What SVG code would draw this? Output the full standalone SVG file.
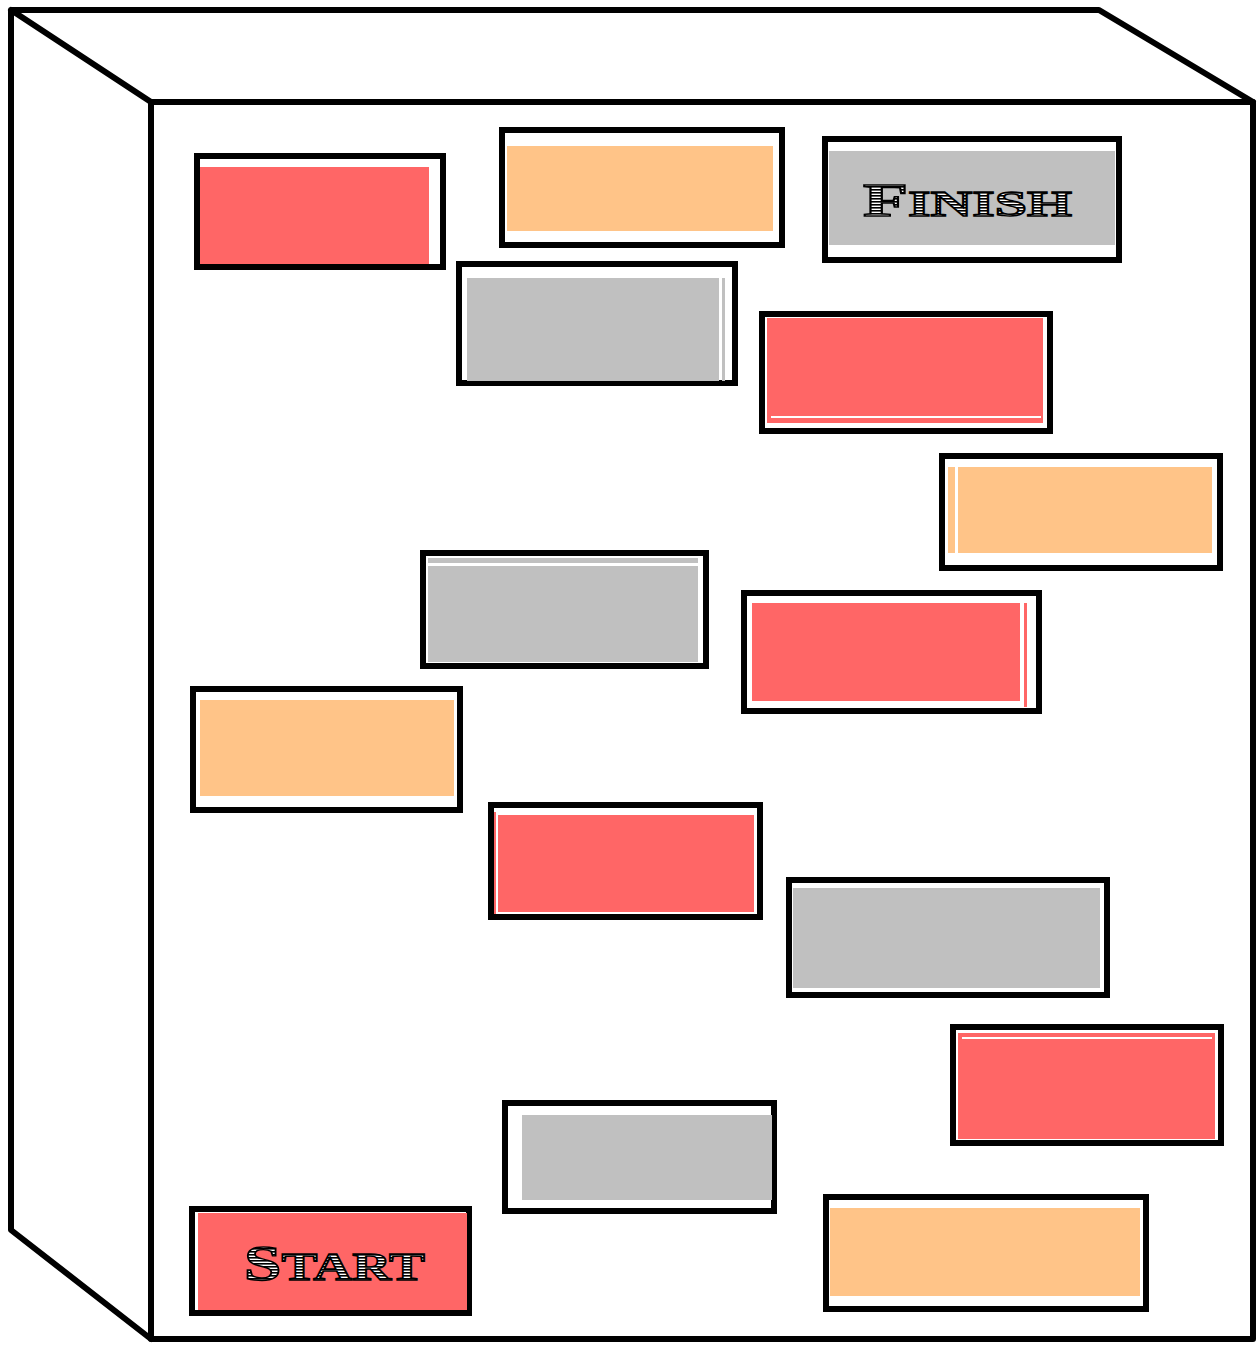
<svg xmlns="http://www.w3.org/2000/svg" width="1258" height="1347" viewBox="0 0 1258 1347">
<style>
.edge{fill:none;stroke:#000;stroke-width:6;stroke-linejoin:round;stroke-linecap:round}
.brick{fill:#fff;stroke:#000;stroke-width:6}
.red{fill:#FF6666}
.org{fill:#FFC488}
.gry{fill:#C0C0C0}
.hl{fill:#fff}
.lbl{font-family:"Liberation Serif","DejaVu Serif",serif;font-weight:bold;fill:url(#hatch);stroke:#000;stroke-width:1.4}
</style>
<defs>
<pattern id="hatch" width="4" height="3" patternUnits="userSpaceOnUse">
<rect width="4" height="3" fill="#fff"/>
<rect width="4" height="1.6" fill="#000"/>
</pattern>
</defs>
<rect width="1258" height="1347" fill="#fff"/>
<g id="box">
<path class="edge" d="M11 10 L1099 10 L1253 102 M11 10 L151 102 M11 10 L11 1230 L151 1339"/>
<rect class="edge" x="151" y="102" width="1102" height="1237"/>
</g>
<g id="brick1"><rect class="brick" x="197" y="156" width="246" height="111"/><rect class="red" x="200" y="167" width="229" height="97"/></g>
<g id="brick2"><rect class="brick" x="502" y="130" width="280" height="115"/><rect class="org" x="507" y="146" width="266" height="85"/></g>
<g id="finish"><rect class="brick" x="825" y="139" width="294" height="121"/><rect class="gry" x="829" y="151" width="286" height="94"/>
<text class="lbl" x="863" y="216" textLength="209" lengthAdjust="spacingAndGlyphs"><tspan font-size="46">F</tspan><tspan font-size="36">INISH</tspan></text></g>
<g id="brick4"><rect class="brick" x="459" y="264" width="276" height="119"/><rect class="gry" x="467" y="278" width="252" height="103"/><rect class="gry" x="722" y="278" width="3" height="103"/></g>
<g id="brick5"><rect class="brick" x="762" y="314" width="288" height="117"/><rect class="red" x="767" y="318" width="276" height="105"/><rect class="hl" x="771" y="416" width="270" height="2"/></g>
<g id="brick6"><rect class="brick" x="942" y="456" width="278" height="112"/><rect class="org" x="948" y="467" width="264" height="86"/><rect class="hl" x="955" y="467" width="3" height="86"/></g>
<g id="brick7"><rect class="brick" x="423" y="553" width="283" height="113"/><rect class="gry" x="428" y="558" width="270" height="104"/><rect class="hl" x="428" y="563" width="270" height="3"/></g>
<g id="brick8"><rect class="brick" x="744" y="593" width="295" height="118"/><rect class="red" x="752" y="603" width="268" height="98"/><rect class="red" x="1024" y="603" width="3" height="104"/></g>
<g id="brick9"><rect class="brick" x="193" y="689" width="267" height="121"/><rect class="org" x="200" y="700" width="254" height="96"/></g>
<g id="brick10"><rect class="brick" x="491" y="805" width="269" height="112"/><rect class="red" x="498" y="815" width="256" height="97"/><rect class="red" x="494" y="812" width="2" height="102"/></g>
<g id="brick11"><rect class="brick" x="789" y="880" width="318" height="115"/><rect class="gry" x="793" y="888" width="307" height="100"/></g>
<g id="brick12"><rect class="brick" x="953" y="1027" width="268" height="116"/><rect class="red" x="958" y="1033" width="257" height="106"/><rect class="hl" x="962" y="1037" width="250" height="2"/></g>
<g id="brick13"><rect class="brick" x="505" y="1103" width="269" height="108"/><rect class="gry" x="522" y="1115" width="250" height="85"/></g>
<g id="start"><rect class="brick" x="192" y="1209" width="277" height="104"/><rect class="red" x="198" y="1213" width="269" height="97"/>
<text class="lbl" x="244" y="1280" textLength="181" lengthAdjust="spacingAndGlyphs"><tspan font-size="50">S</tspan><tspan font-size="40">TART</tspan></text></g>
<g id="brick15"><rect class="brick" x="826" y="1197" width="320" height="112"/><rect class="org" x="830" y="1208" width="310" height="88"/></g>
</svg>
